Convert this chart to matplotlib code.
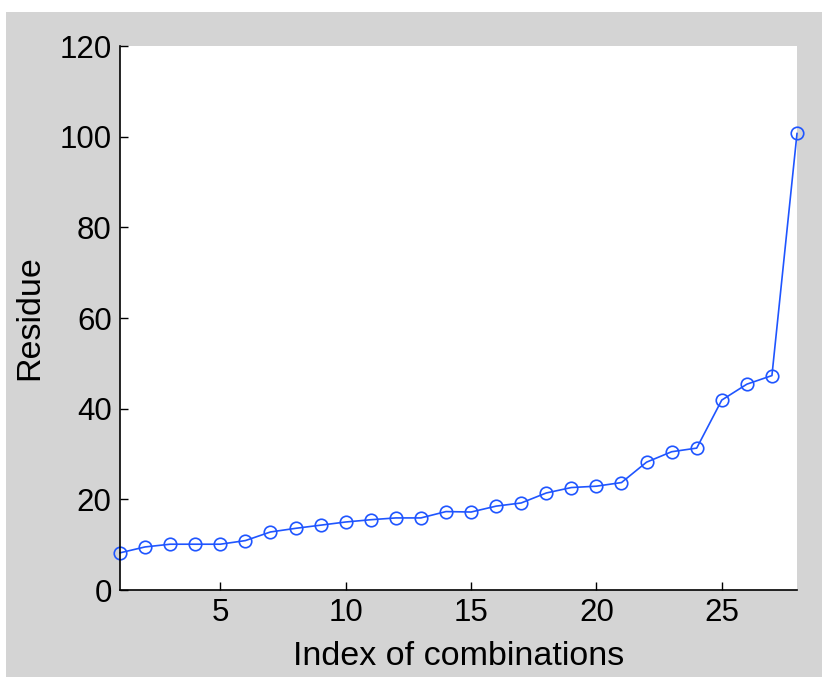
import matplotlib
matplotlib.use("Agg")
import matplotlib.pyplot as plt
from matplotlib.patches import Rectangle

# combination index and residue values
index = list(range(1, 29))
residue = [8.2, 9.5, 10.1, 10.1, 10.1, 10.9, 12.8, 13.6, 14.3, 15.0,
           15.5, 15.9, 15.9, 17.3, 17.2, 18.5, 19.2, 21.4, 22.6, 22.9,
           23.7, 28.2, 30.5, 31.3, 41.9, 45.4, 47.3, 100.7]

x_ticks = [5, 10, 15, 20, 25]
y_ticks = [0, 20, 40, 60, 80, 100, 120]

plt.rcParams['font.family'] = ['Liberation Sans', 'DejaVu Sans']

fig = plt.figure(figsize=(8.22, 6.77), dpi=100)
fig.patch.set_facecolor('white')
# matlab style gray window panel
fig.add_artist(Rectangle((6 / 822, 0), 1, 665 / 677,
                         transform=fig.transFigure, facecolor='#d4d4d4',
                         edgecolor='none', zorder=0))

ax = fig.add_axes([120 / 822, 87 / 677, 677 / 822, 544 / 677])
ax.plot(index, residue, '-o', color='#1f55ff', lw=1.2, ms=9,
        mfc='none', mew=1.2, clip_on=False)

ax.set_xlim(1, 28)
ax.set_ylim(0, 120)
ax.set_xticks(x_ticks)
ax.set_yticks(y_ticks)
ax.tick_params(direction='in', length=6, width=1, labelsize=22.5)
ax.tick_params(axis='x', pad=6)
ax.tick_params(axis='y', pad=6)
for s in ['top', 'right']:
    ax.spines[s].set_visible(False)
for s in ['left', 'bottom']:
    ax.spines[s].set_linewidth(1.2)

ax.set_xlabel('Index of combinations', fontsize=24.5, labelpad=9)
ax.set_ylabel('Residue', fontsize=24.5, labelpad=10)

fig.savefig('out.png', dpi=100)
